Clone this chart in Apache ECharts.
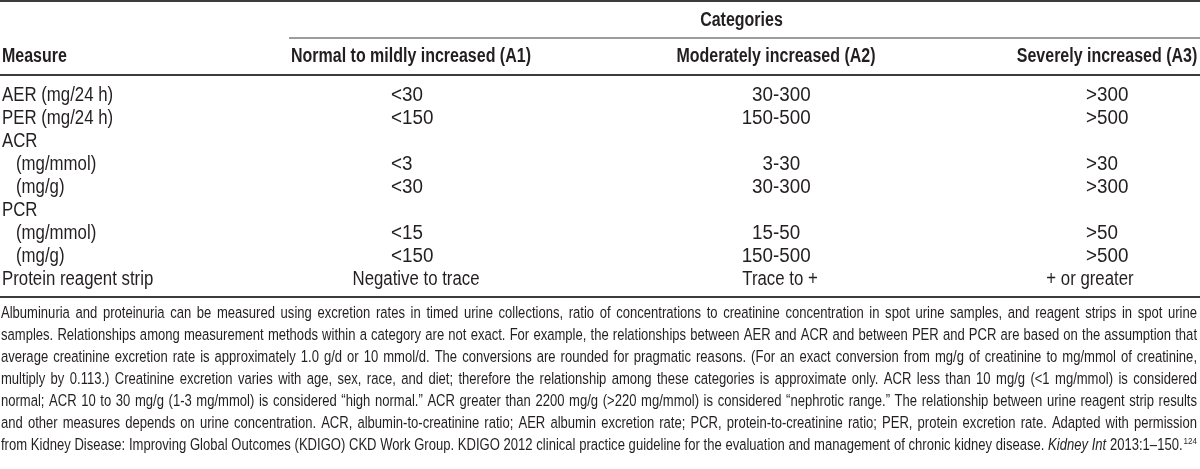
<!DOCTYPE html>
<html><head><meta charset="utf-8">
<script src="https://cdn.jsdelivr.net/npm/echarts@6/dist/echarts.min.js"></script>
<style>html,body{margin:0;padding:0;background:#fff}#c{width:1200px;height:469px}</style>
</head><body><div id="c"></div>
<script>
// ---------- data ----------
const stubHeader = 'Measure';
const spannerHeader = 'Categories';
const categoryHeaders = ['Normal to mildly increased (A1)', 'Moderately increased (A2)', 'Severely increased (A3)'];
const rowLabels = ['AER (mg/24 h)', 'PER (mg/24 h)', 'ACR', '(mg/mmol)', '(mg/g)', 'PCR', '(mg/mmol)', '(mg/g)', 'Protein reagent strip'];
const rowLevels = [0, 0, 0, 1, 1, 0, 1, 1, 0];
const a1Values = ['<30', '<150', '', '<3', '<30', '', '<15', '<150', 'Negative to trace'];
const a2Values = ['30-300', '150-500', '', '3-30', '30-300', '', '15-50', '150-500', 'Trace to +'];
const a3Values = ['>300', '>500', '', '>30', '>300', '', '>50', '>500', '+ or greater'];
const footnoteLines = [
  'Albuminuria and proteinuria can be measured using excretion rates in timed urine collections, ratio of concentrations to creatinine concentration in spot urine samples, and reagent strips in spot urine',
  'samples. Relationships among measurement methods within a category are not exact. For example, the relationships between AER and ACR and between PER and PCR are based on the assumption that',
  'average creatinine excretion rate is approximately 1.0 g/d or 10 mmol/d. The conversions are rounded for pragmatic reasons. (For an exact conversion from mg/g of creatinine to mg/mmol of creatinine,',
  'multiply by 0.113.) Creatinine excretion varies with age, sex, race, and diet; therefore the relationship among these categories is approximate only. ACR less than 10 mg/g (<1 mg/mmol) is considered',
  'normal; ACR 10 to 30 mg/g (1-3 mg/mmol) is considered \u201chigh normal.\u201d ACR greater than 2200 mg/g (>220 mg/mmol) is considered \u201cnephrotic range.\u201d The relationship between urine reagent strip results',
  'and other measures depends on urine concentration. ACR, albumin-to-creatinine ratio; AER albumin excretion rate; PCR, protein-to-creatinine ratio; PER, protein excretion rate. Adapted with permission',
  'from Kidney Disease: Improving Global Outcomes (KDIGO) CKD Work Group. KDIGO 2012 clinical practice guideline for the evaluation and management of chronic kidney disease. _Kidney_ _Int_ 2013:1\u2013150.^124'
];

// ---------- styles / layout ----------
const FONT = "'Liberation Sans',Arial,sans-serif";
const SX = 0.82;        // condensing for headers and footnote
const SX_TEXT = 0.84;   // condensing for body words
const SX_NUM = 0.94;    // condensing for numeric body cells
const INK = '#231f20';
const RULE = '#3c3c3c';
const W = 1200, H = 469;
const L = {
  bodySize: 20, headSize: 19.5, noteSize: 17,
  topRuleY: 1, spannerY: 21, spannerRuleY: 38, spannerRuleX0: 289,
  headY: 57, headRuleY: 75,
  rowFirstY: 95, rowStep: 23,
  noteRuleY: 297, noteFirstY: 314, noteStep: 22,
  stubX: 2, indent: 14,
  headCenter: [411, 776, 1107],
  colCenter: [416, 780, 1090],
  colAnchor: [391, 773, 1086],
  alignChar: ['<', '-', '>']
};

const columns = [a1Values, a2Values, a3Values];
const cellData = [];
columns.forEach((vals, c) => vals.forEach((v, r) => { if (v !== '') cellData.push([c, r, v]); }));
const stubData = rowLabels.map((v, r) => [rowLevels[r], r, v]);

const mctx = document.createElement('canvas').getContext('2d');
function fontStr(size, weight, style) { return (style || 'normal') + ' ' + (weight || 'normal') + ' ' + size + 'px ' + FONT; }
function tw(t, size, weight, style) { mctx.font = fontStr(size, weight, style); return mctx.measureText(t).width * SX; }

function txt(x, y, text, opt) {
  opt = opt || {};
  return {
    type: 'text', x: x, y: y, scaleX: opt.sx || SX, silent: true,
    style: {
      text: text, fill: INK, fontFamily: FONT,
      fontSize: opt.size || L.bodySize, fontWeight: opt.weight || 'normal', fontStyle: opt.style || 'normal',
      align: opt.align || 'left', verticalAlign: 'middle'
    }
  };
}
function hline(x1, x2, y, w) {
  return { type: 'line', silent: true, shape: { x1: x1, y1: y, x2: x2, y2: y }, style: { stroke: RULE, lineWidth: w } };
}

// ---------- graphic: rules, headers, footnote ----------
const graphics = [];
graphics.push(hline(0, W, L.topRuleY, 2));
graphics.push(hline(L.spannerRuleX0, W, L.spannerRuleY, 1.2));
graphics.push(hline(0, W, L.headRuleY, 2));
graphics.push(hline(0, W, L.noteRuleY, 2));
graphics.push(txt((L.spannerRuleX0 + W) / 2 - 3, L.spannerY, spannerHeader, { weight: 'bold', size: L.headSize, align: 'center' }));
graphics.push(txt(L.stubX, L.headY, stubHeader, { weight: 'bold', size: L.headSize }));
categoryHeaders.forEach((h, i) => graphics.push(txt(L.headCenter[i], L.headY, h, { weight: 'bold', size: L.headSize, align: 'center' })));

// footnote, justified word by word
function parseTok(tok) {
  let italic = false, main = tok, sup = '';
  const m = /^_(.*)_$/.exec(tok);
  if (m) { italic = true; main = m[1]; }
  const k = main.indexOf('^');
  if (k >= 0) { sup = main.slice(k + 1); main = main.slice(0, k); }
  return { main, sup, italic };
}
const noteToks = footnoteLines.map(l => l.split(' ').map(parseTok));
function tokW(t, size) { return tw(t.main, size, 'normal', t.italic ? 'italic' : 'normal') + (t.sup ? tw(t.sup, size * 0.62) + 1 : 0); }
let nsize = L.noteSize;
const maxNat = Math.max(...noteToks.map(ts => ts.reduce((s, t) => s + tokW(t, nsize), 0) + (ts.length - 1) * tw(' ', nsize)));
if (maxNat > W - 6) nsize = nsize * (W - 6) / maxNat;
noteToks.forEach((ts, li) => {
  const y = L.noteFirstY + li * L.noteStep;
  const widths = ts.map(t => tokW(t, nsize));
  const gap = (W - 3 - 1 - widths.reduce((a, b) => a + b, 0)) / (ts.length - 1);
  let x = 1;
  ts.forEach((t, i) => {
    graphics.push(txt(x, y, t.main, { size: nsize, style: t.italic ? 'italic' : 'normal' }));
    if (t.sup) {
      const mw = tw(t.main, nsize, 'normal', t.italic ? 'italic' : 'normal');
      graphics.push(txt(x + mw + 1, y - nsize * 0.32, t.sup, { size: nsize * 0.62 }));
    }
    x += widths[i] + gap;
  });
});

// ---------- chart ----------
const chart = echarts.init(document.getElementById('c'), null, { renderer: 'canvas' });
const gridTop = L.rowFirstY - L.rowStep / 2;
function textEl(t, x, y, align, sx) {
  return { type: 'text', x: x, y: y, scaleX: sx, style: { text: t, fill: INK, fontFamily: FONT, fontSize: L.bodySize, align: align, verticalAlign: 'middle' } };
}
chart.setOption({
  animation: false,
  backgroundColor: '#fff',
  grid: { left: 0, right: 0, top: gridTop, height: L.rowStep * rowLabels.length, containLabel: false },
  xAxis: { type: 'value', min: 0, max: W, show: false },
  yAxis: { type: 'category', inverse: true, data: rowLabels, show: false },
  graphic: graphics,
  series: [{
    type: 'custom',
    data: stubData,
    encode: { y: 1 },
    renderItem: function (params, api) {
      const lvl = api.value(0), r = api.value(1);
      const p = api.coord([L.stubX + lvl * L.indent, r]);
      return textEl(stubData[params.dataIndex][2], p[0], p[1], 'left', SX_TEXT);
    }
  }, {
    type: 'custom',
    data: cellData,
    encode: { y: 1 },
    renderItem: function (params, api) {
      const c = api.value(0), r = api.value(1);
      const text = cellData[params.dataIndex][2];
      const y = api.coord([0, r])[1];
      if (/[a-z]/i.test(text)) {
        return textEl(text, api.coord([L.colCenter[c], r])[0], y, 'center', SX_TEXT);
      }
      const ax = api.coord([L.colAnchor[c], r])[0];
      const k = text.indexOf(L.alignChar[c]);
      const left = k > 0 ? text.slice(0, k) : '';
      const right = k >= 0 ? text.slice(k) : text;
      const kids = [textEl(right, ax, y, 'left', SX_NUM)];
      if (left) kids.push(textEl(left, ax, y, 'right', SX_NUM));
      return { type: 'group', children: kids };
    }
  }]
});
</script></body></html>
